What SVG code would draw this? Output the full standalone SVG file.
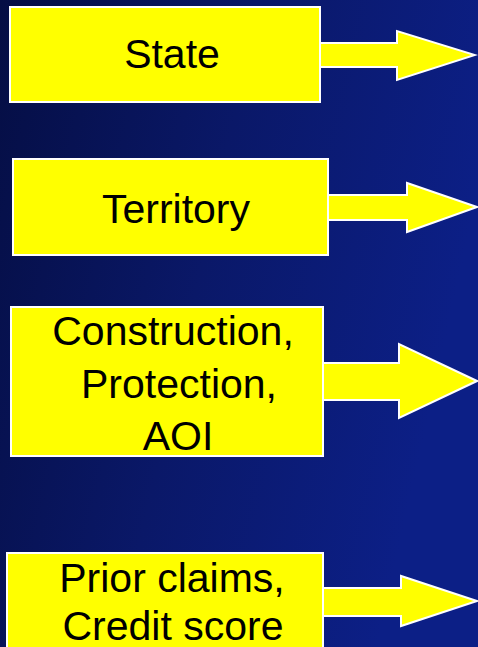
<svg xmlns="http://www.w3.org/2000/svg" width="478" height="647" viewBox="0 0 478 647">
<defs>
<linearGradient id="bg" x1="0" y1="0" x2="1" y2="0.3">
<stop offset="0" stop-color="#050e44"/>
<stop offset="0.5" stop-color="#0a1868"/>
<stop offset="1" stop-color="#0c1f86"/>
</linearGradient>
<style>
.box{fill:#ffff00;stroke:#ffffff;stroke-width:2}
.fill{fill:#ffff00}
.arr{fill:#ffff00;stroke:#ffffff;stroke-width:2;stroke-linejoin:miter}
text{font-family:"Liberation Sans",Arial,sans-serif;font-size:41px;fill:#000000;text-anchor:middle}
</style>
</defs>
<rect x="0" y="0" width="478" height="647" fill="url(#bg)"/>
<g id="connectors">
<polygon class="arr" points="316,43 397,43 397,31 475,55 397,80 397,67 316,67"/>
<polygon class="arr" points="324,195 407,195 407,183 477,207 407,232 407,220 324,220"/>
<polygon class="arr" points="319,363 399,363 399,344 477,381 399,418 399,400 319,400"/>
<polygon class="arr" points="319,588 401,588 401,576 477,601 401,626 401,616 319,616"/>
</g>
<g id="node-state">
<rect class="box" x="10" y="7" width="310" height="95"/>
<rect class="fill" x="11" y="8" width="308" height="93"/>
<text x="172" y="68">State</text>
</g>
<g id="node-territory">
<rect class="box" x="13" y="159" width="315" height="96"/>
<rect class="fill" x="14" y="160" width="313" height="94"/>
<text x="176" y="223">Territory</text>
</g>
<g id="node-construction">
<rect class="box" x="11" y="307" width="312" height="149"/>
<rect class="fill" x="12" y="308" width="310" height="147"/>
<text x="173" y="345">Construction,</text>
<text x="179" y="398">Protection,</text>
<text x="178" y="450">AOI</text>
</g>
<g id="node-prior">
<rect class="box" x="7" y="553" width="316" height="100"/>
<rect class="fill" x="8" y="554" width="314" height="98"/>
<text x="172" y="592">Prior claims,</text>
<text x="173" y="640">Credit score</text>
</g>
</svg>
